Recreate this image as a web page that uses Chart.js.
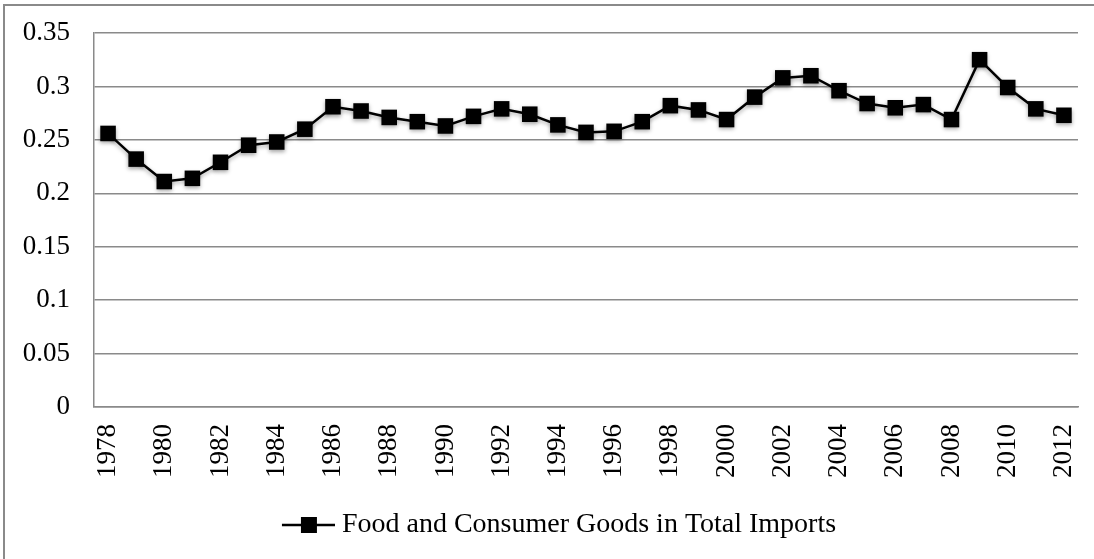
<!DOCTYPE html>
<html>
<head>
<meta charset="utf-8">
<script src="https://cdn.jsdelivr.net/npm/chart.js@4.4.1/dist/chart.umd.min.js"></script>
<style>
  html, body { margin: 0; padding: 0; background: #ffffff; }
  #wrap { position: relative; width: 1094px; height: 559px; overflow: hidden; background: #fff; }
  #frame { position: absolute; left: 3px; top: 4px; width: 3000px; height: 3000px;
           border-left: 2px solid #8a8a8a; border-top: 2px solid #8a8a8a; pointer-events: none; }
  canvas { position: absolute; left: 0; top: 0; }
</style>
</head>
<body>
<div id="wrap">
  <canvas id="c" width="1094" height="559"></canvas>
  <div id="frame"></div>
</div>
<script>
const years = [1978,1979,1980,1981,1982,1983,1984,1985,1986,1987,1988,1989,1990,1991,1992,1993,1994,1995,1996,1997,1998,1999,2000,2001,2002,2003,2004,2005,2006,2007,2008,2009,2010,2011,2012];
const foodConsumerShare = [0.256,0.232,0.211,0.214,0.229,0.245,0.248,0.260,0.281,0.277,0.271,0.267,0.263,0.272,0.279,0.274,0.264,0.257,0.258,0.267,0.282,0.278,0.269,0.290,0.308,0.310,0.296,0.284,0.280,0.283,0.269,0.325,0.299,0.279,0.273];
const seriesName = 'Food and Consumer Goods in Total Imports';
const yMin = 0, yMax = 0.35, yStep = 0.05;

const FONT = '"Liberation Serif", "Times New Roman", serif';

// legend symbol (line with a square), drawn at the right end of a wider transparent image
function legendSymbol() {
  const c = document.createElement('canvas');
  c.width = 100; c.height = 18;
  const g = c.getContext('2d');
  g.strokeStyle = '#000'; g.lineWidth = 2.5;
  g.beginPath(); g.moveTo(47, 9); g.lineTo(100, 9); g.stroke();
  g.fillStyle = '#000'; g.fillRect(66, 1, 16, 16);
  return c;
}

const markerShadow = {
  id: 'markerShadow',
  beforeDatasetsDraw(chart) {
    const ctx = chart.ctx;
    ctx.save();
    ctx.shadowColor = 'rgba(0,0,0,0.35)';
    ctx.shadowBlur = 4;
    ctx.shadowOffsetY = 2;
  },
  afterDatasetsDraw(chart) { chart.ctx.restore(); }
};

new Chart(document.getElementById('c'), {
  type: 'line',
  data: {
    labels: years,
    datasets: [{
      label: seriesName,
      data: foodConsumerShare,
      borderColor: '#000',
      backgroundColor: '#000',
      borderWidth: 2.5,
      tension: 0,
      pointStyle: 'rect',
      pointRadius: 11,
      pointHoverRadius: 11,
      pointBackgroundColor: '#000',
      pointBorderColor: '#000',
      pointBorderWidth: 0
    }]
  },
  options: {
    responsive: false,
    animation: false,
    events: [],
    layout: { padding: { top: 33, right: 16, left: 0, bottom: 10 } },
    plugins: {
      tooltip: { enabled: false },
      legend: {
        position: 'bottom',
        labels: {
          usePointStyle: true,
          pointStyle: legendSymbol(),
          pointStyleWidth: 86,
          boxHeight: 18,
          padding: 10,
          color: '#000',
          font: { family: FONT, size: 28 }
        }
      }
    },
    scales: {
      x: {
        offset: true,
        grid: { display: false, drawTicks: false },
        border: { display: true, color: '#8a8a8a', width: 1.5 },
        ticks: {
          autoSkip: false,
          minRotation: 90,
          maxRotation: 90,
          padding: 17,
          color: '#000',
          font: { family: FONT, size: 27 },
          callback: function(v, i) { return i % 2 === 0 ? String(years[i]) : ''; }
        },
        afterFit(scale) { scale.height = 94; scale.paddingLeft = 0; scale.paddingRight = 0; }
      },
      y: {
        min: yMin, max: yMax,
        grid: { color: '#8a8a8a', lineWidth: 1.5, drawTicks: false },
        border: { display: true, color: '#8a8a8a', width: 1.5 },
        ticks: {
          stepSize: yStep,
          padding: 24,
          color: '#000',
          font: { family: FONT, size: 27 },
          callback: function(v) { return String(Math.round(v * 100) / 100); }
        },
        afterFit(scale) { scale.width = 94; scale.paddingTop = 0; scale.paddingBottom = 0; }
      }
    }
  },
  plugins: [markerShadow]
});
</script>
</body>
</html>
